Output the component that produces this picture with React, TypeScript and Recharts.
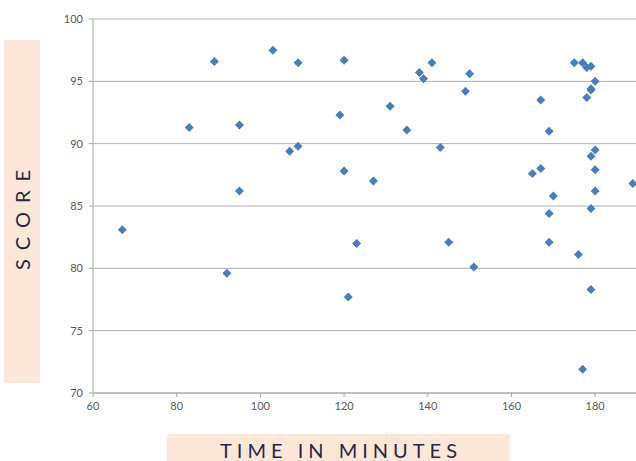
import React from 'react';
import { ScatterChart, Scatter, XAxis, YAxis, CartesianGrid } from 'recharts';

// minutes spent vs. score, one entry per student
const times = [
  67, 83, 89, 92, 95, 95, 103, 109, 107, 109,
  120, 119, 120, 127, 131, 135, 138, 139, 141, 143,
  149, 150, 167, 169, 165, 167, 170, 169, 175, 177,
  178, 179, 180, 179, 179, 178, 180, 179, 180, 180,
  179, 189, 123, 145, 151, 169, 176, 121, 179, 177,
];
const scores = [
  83.1, 91.3, 96.6, 79.6, 91.5, 86.2, 97.5, 96.5, 89.4, 89.8,
  96.7, 92.3, 87.8, 87.0, 93.0, 91.1, 95.7, 95.2, 96.5, 89.7,
  94.2, 95.6, 93.5, 91.0, 87.6, 88.0, 85.8, 84.4, 96.5, 96.5,
  96.1, 96.2, 95.0, 94.4, 94.3, 93.7, 89.5, 89.0, 87.9, 86.2,
  84.8, 86.8, 82.0, 82.1, 80.1, 82.1, 81.1, 77.7, 78.3, 71.9,
];
const xTicks = [60, 80, 100, 120, 140, 160, 180];
const yTicks = [70, 75, 80, 85, 90, 95, 100];

const points = times.map((t, i) => ({ time: t, score: scores[i] }));

const tickStyle = { fontSize: 11, fill: '#595959', fontFamily: 'Lato, sans-serif' };
const labelColor = '#1f2a44';
const peach = '#fce6d8';

function Diamond(props: any) {
  const { cx, cy } = props;
  const r = 4.5;
  return (
    <path
      d={`M${cx},${cy - r} L${cx + r},${cy} L${cx},${cy + r} L${cx - r},${cy} Z`}
      fill="#4a7ebb"
    />
  );
}

export default function App() {
  return (
    <div
      style={{
        position: 'absolute',
        left: 0,
        top: 0,
        width: 636,
        height: 461,
        overflow: 'hidden',
        background: '#fff',
        fontFamily: 'Lato, sans-serif',
      }}
    >
      <ScatterChart width={640} height={420} margin={{ top: 19, right: 3, left: 53, bottom: 0 }}>
        <CartesianGrid vertical={false} stroke="#b0b0b0" />
        <XAxis
          type="number"
          dataKey="time"
          domain={[60, 190]}
          ticks={xTicks}
          height={27}
          tick={tickStyle}
          tickSize={4}
          tickMargin={5}
          stroke="#a6a6a6"
          allowDataOverflow
        />
        <YAxis
          type="number"
          dataKey="score"
          domain={[70, 100]}
          ticks={yTicks}
          width={40}
          tick={tickStyle}
          tickSize={4}
          tickMargin={6}
          stroke="#a6a6a6"
        />
        <Scatter data={points} shape={<Diamond />} isAnimationActive={false} />
      </ScatterChart>

      <div
        style={{
          position: 'absolute',
          left: 4,
          top: 40,
          width: 36,
          height: 343,
          background: peach,
          display: 'flex',
          alignItems: 'center',
          justifyContent: 'center',
        }}
      >
        <span
          style={{
            writingMode: 'vertical-rl',
            transform: 'rotate(180deg)',
            fontSize: 20,
            letterSpacing: 9,
            color: labelColor,
            paddingBottom: 9,
          }}
        >
          SCORE
        </span>
      </div>

      <div
        style={{
          position: 'absolute',
          left: 167,
          top: 434,
          width: 343,
          height: 27,
          background: peach,
          textAlign: 'center',
          fontSize: 20,
          lineHeight: '22px',
          paddingTop: 5,
          boxSizing: 'border-box',
          letterSpacing: 5,
          color: labelColor,
          whiteSpace: 'nowrap',
        }}
      >
        <span style={{ marginRight: -5 }}>TIME IN MINUTES</span>
      </div>
    </div>
  );
}
